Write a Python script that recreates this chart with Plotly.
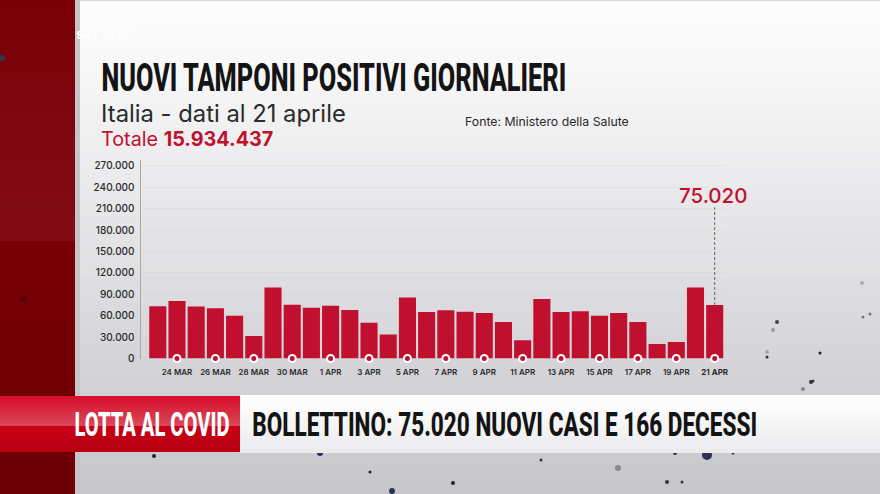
import json
import plotly.graph_objects as go

# Giorni del grafico
days = ['23 MAR', '24 MAR', '25 MAR', '26 MAR', '27 MAR', '28 MAR', '29 MAR', '30 MAR', '31 MAR',
        '1 APR', '2 APR', '3 APR', '4 APR', '5 APR', '6 APR', '7 APR', '8 APR', '9 APR', '10 APR',
        '11 APR', '12 APR', '13 APR', '14 APR', '15 APR', '16 APR', '17 APR', '18 APR', '19 APR',
        '20 APR', '21 APR']
new_cases = [73200, 80600, 73000, 70400, 60000, 31700, 99700, 75500, 71300,
             74000, 68000, 50000, 33500, 85700, 65200, 67600, 65700, 63800, 51300,
             25600, 83400, 65200, 66200, 60000, 63800, 51300, 20500, 23300,
             99700, 75020]
tick_days = ['24 MAR', '26 MAR', '28 MAR', '30 MAR', '1 APR', '3 APR', '5 APR', '7 APR', '9 APR',
             '11 APR', '13 APR', '15 APR', '17 APR', '19 APR', '21 APR']
tick_labels = tick_days[:-1] + ['<b>21 APR</b>']
y_ticks = [0, 30000, 60000, 90000, 120000, 150000, 180000, 210000, 240000, 270000]
y_labels = ['0', '30.000', '60.000', '90.000', '120.000', '150.000', '180.000', '210.000', '240.000', '270.000']

# Macchie dello sfondo (pixel: x, y, raggio, colore)
specks = [(707, 455, 5, '#2c3058'), (600, 400, 4, '#9a9aa0'), (618, 468, 3, '#8a8a92'), (392, 491, 3, '#2c3058'),
          (320, 453, 3, '#2c3058'), (154, 456, 2, '#222222'), (777, 322, 2, '#444444'), (773, 330, 2, '#9a9a9a'),
          (767, 357, 1.5, '#333333'), (767, 352, 2, '#aaaaaa'), (820, 353, 1.5, '#222222'), (811, 382, 2, '#333333'),
          (803, 389, 2, '#888888'), (862, 283, 2, '#aaaaaa'), (870, 314, 1.5, '#777777'), (863, 317, 1.5, '#777777'),
          (813, 381, 1.5, '#333333'), (667, 482, 2, '#333333'), (682, 482, 1.5, '#333333'), (453, 483, 2, '#222222'),
          (370, 472, 1.5, '#222222'), (541, 460, 1.5, '#333333'), (675, 453, 2, '#333333'), (733, 453, 1.5, '#333333'),
          (2, 58, 3, '#263a55'), (23, 299, 3, '#5a0006')]

W, H = 880, 494
CONDENSED = 'Roboto'
BODY = 'Inter'
RED = '#c10f2e'

# Testi molto stretti: larghezza finale in pixel
narrow_widths = {
    'NUOVI TAMPONI POSITIVI GIORNALIERI': 465,
    'LOTTA AL COVID': 155,
    'BOLLETTINO: 75.020 NUOVI CASI E 166 DECESSI': 505,
}

POST_SCRIPT = """
document.body.style.margin = '0';
var widths = %s;
document.querySelectorAll('.annotation-text').forEach(function (t) {
    var w = widths[t.textContent];
    if (w) {
        var box = t.getBBox();
        var cx = box.x + box.width / 2;
        t.setAttribute('transform', 'translate(' + cx + ' 0) scale(' + (w / box.width) + ' 1) translate(' + (-cx) + ' 0)');
    }
});
""" % json.dumps(narrow_widths)


def px_x(x):
    return x / W


def px_y(y):
    return 1 - y / H


def rect(x0, y0, x1, y1, color):
    return dict(type='rect', xref='paper', yref='paper', x0=px_x(x0), x1=px_x(x1),
                y0=px_y(y0), y1=px_y(y1), fillcolor=color, line_width=0, layer='below')


def mix(c0, c1, t):
    return 'rgb(%d,%d,%d)' % tuple(round(a + (b - a) * t) for a, b in zip(c0, c1))


def gradient(x0, y0, x1, y1, c0, c1, bands):
    step = (y1 - y0) / bands
    return [rect(x0, y0 + i * step, x1, min(y1, y0 + (i + 1) * step + 1), mix(c0, c1, i / max(bands - 1, 1)))
            for i in range(bands)]


def background():
    shapes = []
    # sfondo grigio sfumato
    shapes += gradient(80, 0, W, 60, (253, 253, 253), (248, 248, 249), 6)
    shapes += gradient(80, 60, W, H, (248, 248, 249), (198, 198, 203), 50)
    shapes.append(rect(80, 0, W, 1, '#d8d8d8'))
    # fascia rossa a sinistra
    shapes += gradient(0, 0, 75, 241, (122, 0, 6), (130, 12, 22), 20)
    shapes += gradient(0, 241, 75, H, (120, 0, 5), (108, 0, 5), 20)
    shapes.append(rect(75, 0, 80, H, '#c6c6c8'))
    # macchie
    for x, y, r, color in specks:
        shapes.append(dict(type='circle', xref='paper', yref='paper', x0=px_x(x - r), x1=px_x(x + r),
                           y0=px_y(y + r), y1=px_y(y - r), fillcolor=color, line_width=0, layer='below'))
    # banda del titolo in basso
    shapes += gradient(240, 395, W, 453, (255, 255, 255), (236, 236, 238), 12)
    shapes += gradient(0, 396, 240, 426, (216, 16, 44), (216, 70, 88), 10)
    shapes += gradient(0, 426, 240, 452, (200, 0, 20), (184, 0, 18), 8)
    return shapes


def add_text(fig, x, y, text, size, color, family=BODY, anchor='left', weight=None):
    fig.add_annotation(xref='paper', yref='paper', x=px_x(x), y=px_y(y), text=text, showarrow=False,
                       xanchor=anchor, yanchor='middle', font=dict(size=size, color=color, family=family, weight=weight))


def create_plot():
    fig = go.Figure()
    fig.add_trace(go.Bar(x=days, y=new_cases, marker=dict(color=RED, line_width=0), width=0.89))
    fig.add_trace(go.Scatter(x=tick_days, y=[0] * len(tick_days), mode='markers', cliponaxis=False,
                             marker=dict(size=7, color=RED, line=dict(color='white', width=2))))
    # linea tratteggiata fino al valore dell'ultimo giorno
    fig.add_trace(go.Scatter(x=[days[-1], days[-1]], y=[new_cases[-1], 212000], mode='lines',
                             line=dict(color='#666666', width=1, dash='3px,2px')))

    fig.update_layout(
        width=W, height=H, margin=dict(l=0, r=0, t=0, b=0, autoexpand=False), autosize=False,
        paper_bgcolor='#e8e8e8', plot_bgcolor='rgba(0,0,0,0)', showlegend=False, bargap=0.1,
        shapes=background(),
        xaxis=dict(domain=[px_x(140.5), px_x(724.3)], type='category', categoryorder='array', categoryarray=days,
                   range=[-0.9, 29.5], tickvals=tick_days, ticktext=tick_labels, showgrid=False, ticks='',
                   ticklabelstandoff=7, showline=False, zeroline=False,
                   tickfont=dict(size=8, color='#2a2a2a', family=BODY, weight=600)),
        yaxis=dict(domain=[px_y(358.5), px_y(160)], range=[0, 278400], tickvals=y_ticks, ticktext=y_labels,
                   showline=True, linecolor='#a8a8a8', linewidth=1, gridcolor='rgba(205,205,208,0.3)',
                   zeroline=False, ticks='', ticklabelstandoff=3,
                   tickfont=dict(size=10, color='#2a2a2a', family=BODY, weight=500)),
    )

    add_text(fig, 333.5, 78, 'NUOVI TAMPONI POSITIVI GIORNALIERI', 39, '#141414', CONDENSED, 'center', 800)
    add_text(fig, 99, 113, 'Italia - dati al 21 aprile', 23.8, '#2a2a2a')
    add_text(fig, 99, 139, 'Totale <b>15.934.437</b>', 19.8, RED)
    add_text(fig, 463, 121, 'Fonte: Ministero della Salute', 12.3, '#2a2a2a')
    add_text(fig, 713, 196, '75.020', 20.5, RED, anchor='center', weight=500)
    add_text(fig, 152, 424, 'LOTTA AL COVID', 33, 'white', CONDENSED, 'center', 800)
    add_text(fig, 504.5, 424, 'BOLLETTINO: 75.020 NUOVI CASI E 166 DECESSI', 33, '#141414', CONDENSED, 'center', 800)
    add_text(fig, 74, 34, '<b>sky</b> tg24', 13, 'white')
    return fig


def main():
    fig = create_plot()
    fig.write_html('out.html', post_script=POST_SCRIPT, config={'displayModeBar': False})


if __name__ == '__main__':
    main()
